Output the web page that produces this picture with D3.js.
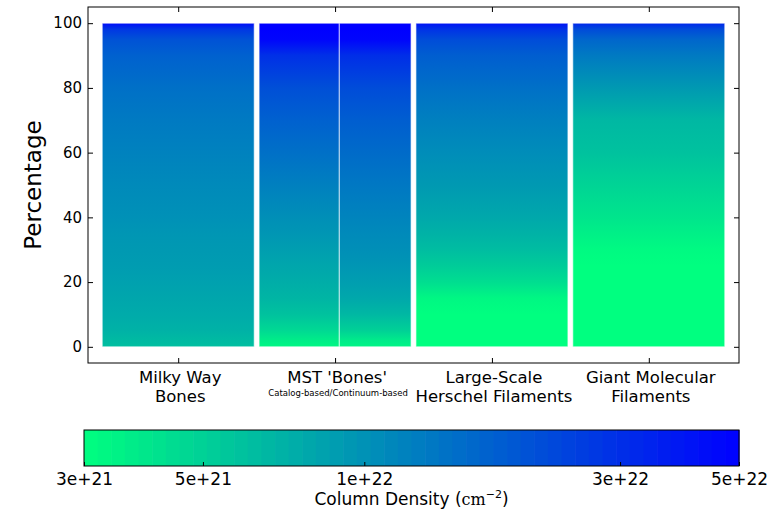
<!DOCTYPE html>
<html><head><meta charset="utf-8">
<script src="https://cdn.jsdelivr.net/npm/d3@7"></script>
<style>
body{margin:0;background:#fff}
svg{display:block}
text{font-family:"DejaVu Sans",sans-serif;fill:#000}
</style>
</head><body>
<svg id="c" width="767" height="515"></svg>
<script>
// ---------- data ----------
const categories = [["Milky Way","Bones"],["MST 'Bones'"],["Large-Scale","Herschel Filaments"],["Giant Molecular","Filaments"]];
const mstSubtitle = "Catalog-based/Continuum-based";
const percentiles = [0,2,5,10,15,20,25,30,35,40,50,60,70,80,90,95,98,100];
const milkyWayBones      = [6.1e21,6.4e21,7.0e21,7.6e21,8.0e21,8.5e21,8.9e21,9.2e21,9.6e21,1.01e22,1.09e22,1.19e22,1.30e22,1.45e22,1.72e22,2.03e22,2.69e22,4.34e22];
const mstCatalog         = [3.26e21,3.65e21,4.57e21,5.89e21,6.78e21,7.38e21,8.0e21,8.74e21,9.51e21,1.03e22,1.22e22,1.45e22,1.72e22,2.09e22,2.93e22,4.73e22,5.0e22,5.2e22];
const mstContinuum       = [3.36e21,3.76e21,4.98e21,6.59e21,7.81e21,8.74e21,9.51e21,1.03e22,1.09e22,1.16e22,1.33e22,1.53e22,1.77e22,2.15e22,3.0e22,4.73e22,5.0e22,5.2e22];
const largeScaleHerschel = [2.8e21,2.8e21,2.8e21,2.9e21,3.26e21,4.32e21,5.27e21,6.23e21,6.98e21,7.81e21,9.24e21,1.06e22,1.22e22,1.45e22,1.77e22,2.15e22,2.85e22,4.11e22];
const giantMolecular     = [2.6e21,2.6e21,2.7e21,2.7e21,2.8e21,2.8e21,2.9e21,3.17e21,3.55e21,3.98e21,4.84e21,5.89e21,6.59e21,9.24e21,1.30e22,1.62e22,2.15e22,3.28e22];
const yTicks = [0,20,40,60,80,100];
const cbTicks = [3e21,5e21,1e22,3e22,5e22];
const cbTickLabels = ["3e+21","5e+21","1e+22","3e+22","5e+22"];
const densityRange = [3e21,5e22];

// ---------- layout ----------
const svg = d3.select("#c");
const plot = {l:88, r:739, t:7, b:363};
const halfW = 0.4845, mstSplit = 0.027;

const x = d3.scaleLinear().domain([-0.575, 3.575]).range([plot.l, plot.r]);
const y = d3.scaleLinear().domain([-5, 105]).range([plot.b, plot.t]);
const tScale = d3.scaleLog().domain(densityRange).range([0,1]).clamp(true);
const winterR = v => { const t = tScale(v); return d3.rgb(0, 255*(1-t), 255*(0.5+0.5*t)).formatHex(); };

const bars = [
  {cat:0, vals:milkyWayBones, lo:-halfW, hi:halfW},
  {cat:1, vals:mstCatalog, lo:-halfW, hi:mstSplit},
  {cat:1, vals:mstContinuum, lo:mstSplit, hi:halfW},
  {cat:2, vals:largeScaleHerschel, lo:-halfW, hi:halfW},
  {cat:3, vals:giantMolecular, lo:-halfW, hi:halfW}
];

const defs = svg.append("defs");
bars.forEach((b,i) => {
  const g = defs.append("linearGradient").attr("id","bg"+i)
    .attr("x1",0).attr("y1",1).attr("x2",0).attr("y2",0);
  g.selectAll("stop").data(percentiles).join("stop")
    .attr("offset", p => p/100)
    .attr("stop-color", (p,j) => winterR(b.vals[j]));
});

svg.append("g").selectAll("rect").data(bars).join("rect")
  .attr("x", b => x(b.cat + b.lo))
  .attr("width", b => x(b.cat + b.hi) - x(b.cat + b.lo))
  .attr("y", y(percentiles[percentiles.length-1]))
  .attr("height", y(percentiles[0]) - y(percentiles[percentiles.length-1]))
  .attr("fill", (b,i) => `url(#bg${i})`)
  .attr("stroke", "rgba(255,255,255,0.65)")
  .attr("stroke-width", 1);

// frame
svg.append("rect").attr("x",plot.l).attr("y",plot.t)
  .attr("width",plot.r-plot.l).attr("height",plot.b-plot.t)
  .attr("fill","none").attr("stroke","#000").attr("stroke-width",1);

function styleAxis(size){
  return g => {
    g.select(".domain").remove();
    g.selectAll("line").attr("stroke","#000");
    g.selectAll("text").attr("font-family","DejaVu Sans").attr("font-size",size).attr("fill","#000");
  };
}
svg.append("g").attr("transform",`translate(${plot.l},0)`)
  .call(d3.axisLeft(y).tickValues(yTicks).tickSize(-5).tickPadding(6)).call(styleAxis(15));
svg.append("g").attr("transform",`translate(${plot.r},0)`)
  .call(d3.axisRight(y).tickValues(yTicks).tickSize(-5).tickFormat("")).call(styleAxis(15));
svg.append("g").attr("transform",`translate(0,${plot.b})`)
  .call(d3.axisBottom(x).tickValues(d3.range(categories.length)).tickSize(-5).tickFormat("")).call(styleAxis(15));
svg.append("g").attr("transform",`translate(0,${plot.t})`)
  .call(d3.axisTop(x).tickValues(d3.range(categories.length)).tickSize(-5).tickFormat("")).call(styleAxis(15));

// y label
svg.append("text").attr("transform","translate(41,185) rotate(-90)")
  .attr("text-anchor","middle").attr("font-size",23).text("Percentage");

// category labels
categories.forEach((lines,i) => {
  lines.forEach((s,j) => {
    svg.append("text").attr("x", x(i) + 2).attr("y", 382.5 + j*19.5)
      .attr("text-anchor","middle").attr("font-size",16.5).text(s);
  });
});
svg.append("text").attr("x", x(1) + 3).attr("y", 396)
  .attr("text-anchor","middle").attr("font-size",8.5).text(mstSubtitle);

// ---------- colorbar ----------
const cb = {l:84, r:739, t:430, b:466};
const cx = d3.scaleLog().domain(densityRange).range([cb.l, cb.r]);
const nSteps = 48;
const steps = d3.range(nSteps).map(k => {
  const a = cx.invert(cb.l + (cb.r-cb.l)*k/nSteps), c = cx.invert(cb.l + (cb.r-cb.l)*(k+1)/nSteps);
  return {a, c, mid: Math.sqrt(a*c)};
});
svg.append("g").selectAll("rect").data(steps).join("rect")
  .attr("x", d => cx(d.a)).attr("width", d => cx(d.c)-cx(d.a)+0.6)
  .attr("y", cb.t).attr("height", cb.b-cb.t)
  .attr("fill", d => winterR(d.mid));
svg.append("rect").attr("x",cb.l).attr("y",cb.t).attr("width",cb.r-cb.l).attr("height",cb.b-cb.t)
  .attr("fill","none").attr("stroke","#000").attr("stroke-width",1);
svg.append("g").attr("transform",`translate(0,${cb.b})`)
  .call(d3.axisBottom(cx).tickValues(cbTicks).tickSize(-4).tickPadding(7)
    .tickFormat((d,i) => cbTickLabels[i])).call(styleAxis(17));

const lab = svg.append("text").attr("x", (cb.l+cb.r)/2).attr("y", 505)
  .attr("text-anchor","middle").attr("font-size",17);
lab.append("tspan").text("Column Density (");
lab.append("tspan").attr("font-family","DejaVu Serif").attr("font-size",16).text("cm");
lab.append("tspan").attr("font-size",11).attr("dy",-7).text("−2");
lab.append("tspan").attr("dy",7).text(")");
</script>
</body></html>
